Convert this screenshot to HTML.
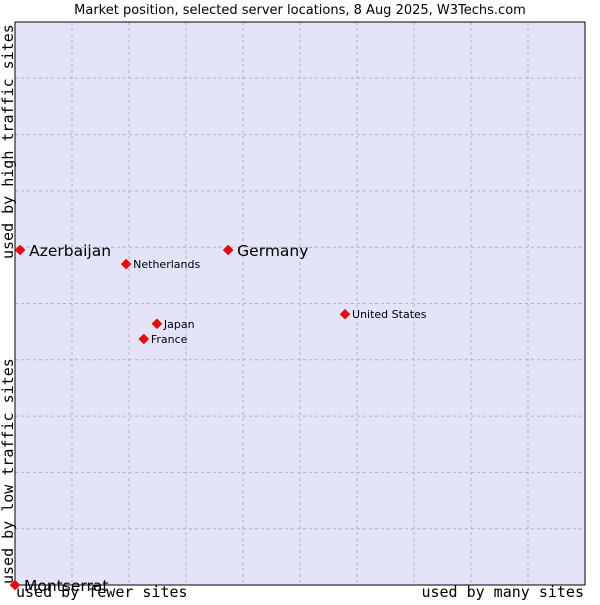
<!DOCTYPE html>
<html><head><meta charset="utf-8"><style>
body{margin:0;background:#fff;width:600px;height:600px;overflow:hidden}
svg{font-family:"DejaVu Sans","Liberation Sans",sans-serif}
</style></head><body>
<svg width="600" height="600" id="chart">
<text x="300" y="14" text-anchor="middle" font-size="13" fill="#000">Market position, selected server locations, 8 Aug 2025, W3Techs.com</text>
<rect x="15" y="22" width="570" height="563" fill="#e3e4f8"/>
<g id="grid"></g>
<rect x="15" y="22" width="570" height="563" fill="none" stroke="#000" stroke-width="1"/>
<g id="pts"></g>
<text x="16" y="597" font-family="DejaVu Sans Mono, Liberation Mono, monospace" font-size="15">used by fewer sites</text>
<text x="584" y="597" text-anchor="end" font-family="DejaVu Sans Mono, Liberation Mono, monospace" font-size="15">used by many sites</text>
<text transform="translate(13,584) rotate(-90)" font-family="DejaVu Sans Mono, Liberation Mono, monospace" font-size="15">used by low traffic sites</text>
<text transform="translate(13,259) rotate(-90)" font-family="DejaVu Sans Mono, Liberation Mono, monospace" font-size="15">used by high traffic sites</text>
</svg>
<script>
const names=["Azerbaijan","Germany","Netherlands","United States","Japan","France","Montserrat"];
const xVals=[0.9,37.4,19.5,57.9,24.9,22.6,0];
const yVals=[59.5,59.5,57,48.1,46.4,43.7,0];
const big=[true,true,false,false,false,false,true];
const ns="http://www.w3.org/2000/svg";
const X=v=>15+v*5.7, Y=v=>585-v*5.63;
const g=document.getElementById('grid');
for(let i=1;i<10;i++){
 const l=document.createElementNS(ns,'line');
 l.setAttribute('x1',X(i*10));l.setAttribute('x2',X(i*10));l.setAttribute('y1',22);l.setAttribute('y2',585);
 l.setAttribute('stroke','#b4b4b4');l.setAttribute('stroke-dasharray','3,3');
 
 
 g.appendChild(l);
 const h=document.createElementNS(ns,'line');
 h.setAttribute('y1',Y(i*10));h.setAttribute('y2',Y(i*10));h.setAttribute('x1',15);h.setAttribute('x2',585);
 h.setAttribute('stroke','#b4b4b4');h.setAttribute('stroke-dasharray','3,3');
 
 
 g.appendChild(h);
}
const p=document.getElementById('pts');
names.forEach((n,i)=>{
 const cx=X(xVals[i]),cy=Y(yVals[i]);
 const d=document.createElementNS(ns,'path');
 d.setAttribute('d',`M${cx-5},${cy}L${cx},${cy-5}L${cx+5},${cy}L${cx},${cy+5}Z`);
 d.setAttribute('fill','#f00');d.setAttribute('stroke','#a00');d.setAttribute('stroke-width','0.5');
 
 
 p.appendChild(d);
 const t=document.createElementNS(ns,'text');
 t.setAttribute('x',cx+(big[i]?9:7));t.setAttribute('y',cy+(big[i]?6:4));
 t.setAttribute('font-size',big[i]?15.5:11);
 t.textContent=n;
 
 
 p.appendChild(t);
});
</script>
</body></html>
